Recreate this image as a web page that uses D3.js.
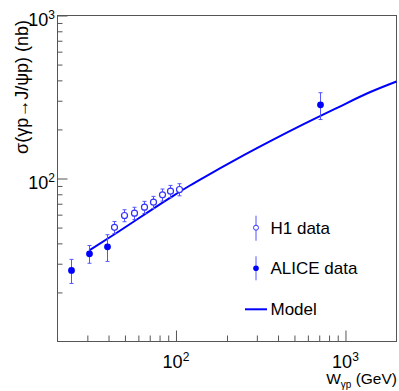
<!DOCTYPE html>
<html>
<head>
<meta charset="utf-8">
<script src="https://cdn.jsdelivr.net/npm/d3@7"></script>
<style>
  body { margin: 0; background: #fff; }
  text { font-family: "Liberation Sans", Arial, Helvetica, sans-serif; fill: #000; }
</style>
</head>
<body>
<div id="plot"></div>
<script>
// H1 data (open circles)
const h1W = [43.1, 49.4, 56.7, 65.0, 73.4, 83.1, 92.6, 104.2];
const h1Sigma = [50.2, 59.3, 61.3, 66.7, 71.6, 79.4, 83.6, 85.6];
const h1Err = [4.3, 5.0, 5.3, 5.7, 6.1, 6.8, 7.1, 7.3];

// ALICE data (filled circles)
const aliceW = [24.0, 30.7, 39.4, 706];
const aliceSigma = [27.3, 34.5, 38.1, 283];
const aliceErr = [4.6, 4.3, 7.1, 53];

// model curve
const modelW = [30.8, 42.7, 92.2, 120.9, 144.9, 227.9, 358, 562.6, 885, 1391, 2000];
const modelSigma = [36.2, 45.0, 76.1, 90.6, 101, 131.4, 168.7, 214.5, 270, 338, 393.6];

const xMajor = [100, 1000];
const yMajor = [100, 1000];
const xMinor = [30, 40, 50, 60, 70, 80, 90, 200, 300, 400, 500, 600, 700, 800, 900];
const yMinor = [20, 30, 40, 50, 60, 70, 80, 90, 200, 300, 400, 500, 600, 700, 800, 900];

const legendLabels = ["H1 data", "ALICE data", "Model"];

const width = 399, height = 391;
const fLeft = 57.5, fRight = 396.5, fTop = 15.5, fBottom = 341.5;
const blue = "#0000ff", lightBlue = "#5555ff", frameCol = "#555";

const svg = d3.select("#plot").append("svg")
    .attr("width", width)
    .attr("height", height);

const x = d3.scaleLog().domain([20, 2000]).range([fLeft, fRight]);
const y = d3.scaleLog().domain([10, 1000]).range([fBottom, fTop]);

// minor + major ticks, pointing inside the frame
svg.append("g")
    .attr("transform", `translate(0,${fBottom})`)
    .call(d3.axisBottom(x).tickValues(xMinor).tickSize(-6).tickFormat(() => ""))
    .call(g => g.select(".domain").remove());
svg.append("g")
    .attr("transform", `translate(0,${fBottom})`)
    .call(d3.axisBottom(x).tickValues(xMajor).tickSize(-11).tickFormat(() => ""))
    .call(g => g.select(".domain").remove());
svg.append("g")
    .attr("transform", `translate(${fLeft},0)`)
    .call(d3.axisLeft(y).tickValues(yMinor).tickSize(-5).tickFormat(() => ""))
    .call(g => g.select(".domain").remove());
svg.append("g")
    .attr("transform", `translate(${fLeft},0)`)
    .call(d3.axisLeft(y).tickValues(yMajor).tickSize(-10).tickFormat(() => ""))
    .call(g => g.select(".domain").remove());
svg.selectAll(".tick line").attr("stroke", frameCol);

// frame
svg.append("rect")
    .attr("x", fLeft).attr("y", fTop)
    .attr("width", fRight - fLeft).attr("height", fBottom - fTop)
    .attr("fill", "none").attr("stroke", frameCol).attr("stroke-width", 1);

// tick labels 10^n
svg.selectAll(".xlab").data(xMajor).enter().append("text")
    .attr("class", "xlab")
    .attr("x", d => x(d)).attr("y", 368)
    .attr("text-anchor", "middle").attr("font-size", 18)
    .each(function(d) {
      const t = d3.select(this);
      t.append("tspan").text("10");
      t.append("tspan").attr("dy", -7).attr("font-size", 12).text(Math.round(Math.log10(d)));
    });
svg.selectAll(".ylab").data(yMajor).enter().append("text")
    .attr("class", "ylab")
    .attr("x", 55).attr("y", d => y(d) + 10)
    .attr("text-anchor", "end").attr("font-size", 18)
    .each(function(d) {
      const t = d3.select(this);
      t.append("tspan").text("10");
      t.append("tspan").attr("dy", -7).attr("font-size", 12).text(Math.round(Math.log10(d)));
    });

// axis titles
const xt = svg.append("text")
    .attr("x", 397).attr("y", 384)
    .attr("text-anchor", "end").attr("font-size", 15.5);
xt.append("tspan").text("W");
xt.append("tspan").attr("dy", 4).attr("font-size", 10).text("γp");
xt.append("tspan").attr("dy", -4).text(" (GeV)");

svg.append("text")
    .attr("transform", "translate(28,20) rotate(-90)")
    .attr("text-anchor", "end").attr("font-size", 18)
    .text("σ(γp→J/ψp) (nb)");

// model line
const line = d3.line()
    .x(d => x(d[0])).y(d => y(d[1]))
    .curve(d3.curveMonotoneX);
svg.append("path")
    .datum(modelW.map((w, i) => [w, modelSigma[i]]))
    .attr("d", line)
    .attr("fill", "none").attr("stroke", blue).attr("stroke-width", 2);

// error bars with small caps
function errorBars(ws, ss, es, col) {
  const g = svg.append("g").attr("stroke", col).attr("stroke-width", 1);
  ws.forEach((w, i) => {
    const cx = Math.round(x(w)) + 0.5;
    const y0 = y(ss[i] + es[i]), y1 = y(ss[i] - es[i]);
    g.append("line").attr("x1", cx).attr("x2", cx).attr("y1", y0).attr("y2", y1);
    g.append("line").attr("x1", cx - 2).attr("x2", cx + 2).attr("y1", y0).attr("y2", y0);
    g.append("line").attr("x1", cx - 2).attr("x2", cx + 2).attr("y1", y1).attr("y2", y1);
  });
}
errorBars(h1W, h1Sigma, h1Err, lightBlue);
errorBars(aliceW, aliceSigma, aliceErr, lightBlue);

svg.selectAll(".h1").data(h1W).enter().append("circle")
    .attr("cx", d => Math.round(x(d)) + 0.5)
    .attr("cy", (d, i) => y(h1Sigma[i]))
    .attr("r", 3)
    .attr("fill", "#fff").attr("stroke", "#3333ff").attr("stroke-width", 1.2);

svg.selectAll(".alice").data(aliceW).enter().append("circle")
    .attr("cx", d => Math.round(x(d)) + 0.5)
    .attr("cy", (d, i) => y(aliceSigma[i]))
    .attr("r", 3.4)
    .attr("fill", blue);

// legend
const lg = svg.append("g");
const lx = 256, ly = [227.7, 268.3, 309.3];
lg.append("line").attr("x1", lx).attr("x2", lx).attr("y1", ly[0] - 12).attr("y2", ly[0] + 13)
    .attr("stroke", lightBlue);
lg.append("circle").attr("cx", lx).attr("cy", ly[0]).attr("r", 2.5)
    .attr("fill", "#fff").attr("stroke", "#3333ff");
lg.append("line").attr("x1", lx).attr("x2", lx).attr("y1", ly[1] - 12).attr("y2", ly[1] + 12)
    .attr("stroke", lightBlue);
lg.append("circle").attr("cx", lx).attr("cy", ly[1]).attr("r", 2.8).attr("fill", blue);
lg.append("line").attr("x1", 245).attr("x2", 267).attr("y1", ly[2]).attr("y2", ly[2])
    .attr("stroke", blue).attr("stroke-width", 2);
lg.selectAll("text").data(legendLabels).enter().append("text")
    .attr("x", 270.5).attr("y", (d, i) => ly[i] + 6)
    .attr("font-size", 17)
    .text(d => d);
</script>
</body>
</html>
